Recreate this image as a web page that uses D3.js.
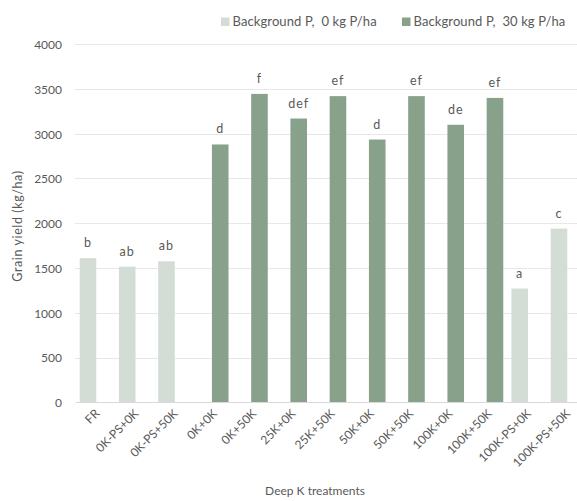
<!DOCTYPE html>
<html>
<head>
<meta charset="utf-8">
<script src="https://cdn.jsdelivr.net/npm/d3@7/dist/d3.min.js"></script>
<style>
  html, body { margin: 0; padding: 0; background: #fff; }
  svg { display: block; font-family: Lato, "Open Sans", sans-serif; }
  text { fill: #595959; }
</style>
</head>
<body>
<svg id="chart" width="577" height="501"></svg>
<script>
// Deep K treatments and their grain yields (kg/ha)
const categories = ["FR", "0K-PS+0K", "0K-PS+50K", "0K+0K", "0K+50K", "25K+0K", "25K+50K",
  "50K+0K", "50K+50K", "100K+0K", "100K+50K", "100K-PS+0K", "100K-PS+50K"];
const seriesNames = ["Background P,  0 kg P/ha", "Background P,  30 kg P/ha"];
const yieldP0  = [1610, 1515, 1575, null, null, null, null, null, null, null, null, 1270, 1940];
const yieldP30 = [null, null, null, 2880, 3445, 3170, 3420, 2935, 3420, 3100, 3400, null, null];
const letters  = ["b", "ab", "ab", "d", "f", "def", "ef", "d", "ef", "de", "ef", "a", "c"];
const yTicks   = [0, 500, 1000, 1500, 2000, 2500, 3000, 3500, 4000];
const colors   = ["#d3ddd5", "#87a18a"];

const svg = d3.select("#chart");
const plotLeft = 75.6, plotTop = 44.2, plotBottom = 402.3, band = 39.25;

const x = d3.scaleBand().domain(categories).range([plotLeft, plotLeft + band * categories.length]);
const bw = x.bandwidth();
const xs = d3.scaleBand().domain([0, 1]).range([bw / 2 - 14.5, bw / 2 + 14.5]);
const barW = 16.6;
const y = d3.scaleLinear().domain([0, 4000]).range([plotBottom, plotTop]);

// value axis labels
const yAxis = d3.axisLeft(y).tickValues(yTicks).tickFormat(d3.format("d")).tickSize(0).tickPadding(0);
const gy = svg.append("g").attr("transform", `translate(62,0)`).call(yAxis);
gy.select(".domain").remove();
gy.selectAll("text").attr("font-size", 12).attr("fill", "#595959")
  .attr("font-family", "Lato, 'Open Sans', sans-serif").attr("dy", "0.36em");

// gridlines
svg.append("g").selectAll("line").data(yTicks.filter(d => d > 0)).join("line")
  .attr("x1", plotLeft).attr("x2", 577)
  .attr("y1", d => Math.round(y(d)) + 0.5).attr("y2", d => Math.round(y(d)) + 0.5)
  .attr("stroke", "#d0d0d0").attr("stroke-width", 1).attr("stroke-dasharray", "1,1");

// bars
const series = [yieldP0, yieldP30];
series.forEach((vals, si) => {
  svg.append("g").selectAll("rect")
    .data(vals.map((v, i) => ({ v, c: categories[i] })).filter(d => d.v != null))
    .join("rect")
    .attr("x", d => x(d.c) + xs(si) + xs.bandwidth() / 2 - barW / 2)
    .attr("width", barW)
    .attr("y", d => y(d.v))
    .attr("height", d => y(0) - y(d.v))
    .attr("fill", colors[si]);
});

// baseline
svg.append("line").attr("x1", plotLeft).attr("x2", 577)
  .attr("y1", Math.round(plotBottom) + 0.5).attr("y2", Math.round(plotBottom) + 0.5)
  .attr("stroke", "#d9d9d9").attr("stroke-width", 1);

// significance letters
svg.append("g").selectAll("text").data(categories).join("text")
  .attr("x", (c, i) => {
    const si = yieldP0[i] != null ? 0 : 1;
    return x(c) + xs(si) + xs.bandwidth() / 2;
  })
  .attr("y", (c, i) => y(yieldP0[i] != null ? yieldP0[i] : yieldP30[i]) - 11)
  .attr("text-anchor", "middle").attr("font-size", 12.5).attr("letter-spacing", "1px")
  .text((c, i) => letters[i]);

// category labels
svg.append("g").selectAll("text").data(categories).join("text")
  .attr("transform", c => `translate(${x(c) + bw / 2 + 2},${plotBottom + 9}) rotate(-45)`)
  .attr("text-anchor", "end").attr("font-size", 12).attr("dy", "0.35em")
  .text(c => c);

// axis titles
svg.append("text").attr("transform", `translate(22,226) rotate(-90)`)
  .attr("text-anchor", "middle").attr("font-size", 12.5).attr("letter-spacing", "0.6px")
  .text("Grain yield (kg/ha)");
svg.append("text").attr("x", 315).attr("y", 495)
  .attr("text-anchor", "middle").attr("font-size", 12)
  .text("Deep K treatments");

// legend
const legendX = [221, 402];
seriesNames.forEach((name, i) => {
  svg.append("rect").attr("x", legendX[i]).attr("y", 17.5).attr("width", 8.5).attr("height", 8.5)
    .attr("fill", colors[i]);
  svg.append("text").attr("x", legendX[i] + 11.5).attr("y", 26)
    .attr("font-size", 13).attr("letter-spacing", "0.1px").style("white-space", "pre").text(name);
});
</script>
</body>
</html>
